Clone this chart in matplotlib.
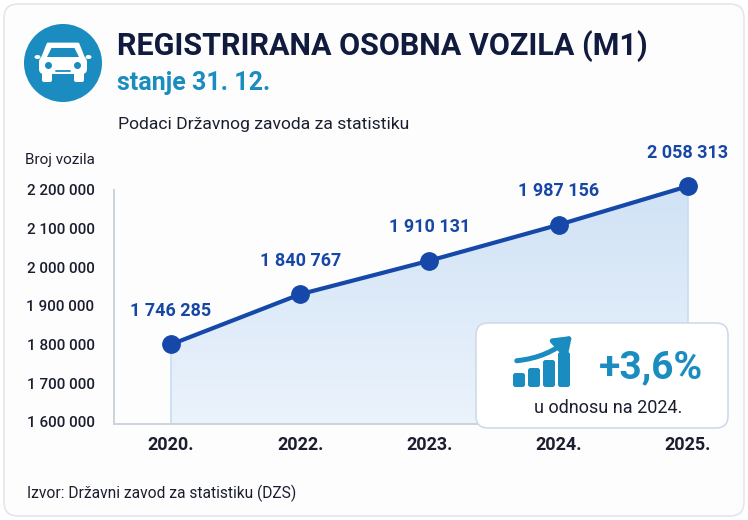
import matplotlib
matplotlib.use("Agg")
import matplotlib.pyplot as plt
import numpy as np
from matplotlib.patches import FancyBboxPatch, Circle, Polygon, Ellipse, FancyArrowPatch
from matplotlib.colors import LinearSegmentedColormap

plt.rcParams['font.family'] = ['Roboto', 'DejaVu Sans']

# ---- data ----
years = ["2020.", "2022.", "2023.", "2024.", "2025."]
registered = [1746285, 1840767, 1910131, 1987156, 2058313]          # labelled values
plotted = [1800000, 1930000, 2017000, 2110000, 2210000]             # heights as drawn on the axis
y_ticks = [1600000, 1700000, 1800000, 1900000, 2000000, 2100000, 2200000]
change_label = "+3,6%"
change_note = "u odnosu na 2024."

TITLE = "REGISTRIRANA OSOBNA VOZILA (M1)"
SUBTITLE = "stanje 31. 12."
INTRO = "Podaci Državnog zavoda za statistiku"
SOURCE = "Izvor: Državni zavod za statistiku (DZS)"

def fmt(v):
    return f"{v:,}".replace(",", " ")

W, H = 748, 520
fig = plt.figure(figsize=(W / 100, H / 100), dpi=100)
fig.patch.set_facecolor("white")

# background card
bg = fig.add_axes([0, 0, 1, 1], zorder=0)
bg.set_xlim(0, W); bg.set_ylim(H, 0); bg.axis("off")
bg.add_patch(FancyBboxPatch((4, 4), W - 8, H - 8, boxstyle="round,pad=0,rounding_size=14",
                            fc="#fdfdfe", ec="#e3e6eb", lw=1.2))

# main axes
L, R, T, B = 114, 690, 190, 424
ax = fig.add_axes([L / W, 1 - B / H, (R - L) / W, (B - T) / H], zorder=1)
ax.set_facecolor("none")
x = np.arange(len(years))
ax.set_xlim(-0.44, 4.015)
ax.set_ylim(1594000, 2200000)

line_col = "#1548a8"
# gradient fill under the line
poly_x = np.concatenate([[x[0]], x, [x[-1]]])
poly_y = np.concatenate([[1594000], plotted, [1594000]])
fill = ax.fill(poly_x, poly_y, color="none", lw=0)[0]
grad = np.linspace(0, 1, 256).reshape(-1, 1)
cmap = LinearSegmentedColormap.from_list("g", ["#ebf3fc", "#d0e2f5"])
im = ax.imshow(grad, extent=[x[0], x[-1], 1594000, 2220000], origin="lower",
               cmap=cmap, aspect="auto", zorder=1)
im.set_clip_path(fill)
ax.plot([x[0], x[0]], [1594000, plotted[0]], color="#c8dcf1", lw=1.2, zorder=2)
ax.plot([x[-1], x[-1]], [1594000, plotted[-1]], color="#c8dcf1", lw=1.2, zorder=2)

ax.plot(x, plotted, "-o", color=line_col, lw=3, ms=12.5, zorder=4, clip_on=False)
for xi, yi, v in zip(x, plotted, registered):
    ax.annotate(fmt(v), (xi, yi), xytext=(0, 24), textcoords="offset points",
                ha="center", va="center", fontsize=13, fontweight="bold",
                color="#1747a6", annotation_clip=False)

for s in ["top", "right"]:
    ax.spines[s].set_visible(False)
for s in ["left", "bottom"]:
    ax.spines[s].set_color("#cdd3dc")
    ax.spines[s].set_linewidth(1.4)
ax.set_yticks(y_ticks)
ax.set_yticklabels([fmt(v) for v in y_ticks], fontsize=11, fontweight="medium", color="#1b1e2e")
ax.set_xticks(x)
ax.set_xticklabels(years, fontsize=13, fontweight="bold", color="#1b1e2e")
ax.tick_params(axis="y", length=0, pad=14)
ax.tick_params(axis="x", length=0, pad=9)

# overlay for texts and decorations
ov = fig.add_axes([0, 0, 1, 1], zorder=2)
ov.set_xlim(0, W); ov.set_ylim(H, 0); ov.axis("off")
ov.set_facecolor("none")

teal = "#1b8cc0"
# icon circle with car
ov.add_patch(Circle((63, 63), 39, fc=teal, ec="none"))
ov.add_patch(Polygon([(48, 44), (78, 44), (84, 59), (42, 59)], closed=True, fc="white", ec="white",
                     lw=2, joinstyle="round"))
ov.add_patch(Polygon([(51.5, 48), (74.5, 48), (79, 57), (47, 57)], closed=True, fc=teal, ec="none"))
ov.add_patch(FancyBboxPatch((39, 57), 48, 17, boxstyle="round,pad=0,rounding_size=5", fc="white", ec="none"))
ov.add_patch(Ellipse((37.5, 57), 6, 4, fc="white", ec="none"))
ov.add_patch(Ellipse((88.5, 57), 6, 4, fc="white", ec="none"))
ov.add_patch(FancyBboxPatch((42, 71), 10, 11, boxstyle="round,pad=0,rounding_size=2", fc="white", ec="none"))
ov.add_patch(FancyBboxPatch((74, 71), 10, 11, boxstyle="round,pad=0,rounding_size=2", fc="white", ec="none"))
ov.add_patch(Circle((48.5, 65.5), 3.5, fc=teal, ec="none"))
ov.add_patch(Circle((77.5, 65.5), 3.5, fc=teal, ec="none"))
ov.plot([56, 70], [71, 71], color=teal, lw=1.3, solid_capstyle="round")

# titles
ov.text(117, 46, TITLE, fontsize=22, fontweight="bold", color="#101b3d", va="center", ha="left")
ov.text(117, 83, SUBTITLE, fontsize=18, fontweight="bold", color=teal, va="center", ha="left")
ov.text(118, 125, INTRO, fontsize=12.6, color="#1b1e2e", va="center", ha="left")
ov.text(25, 160, "Broj vozila", fontsize=11, color="#1b1e2e", va="center", ha="left")
ov.text(27, 493, SOURCE, fontsize=11.2, color="#1b1e2e", va="center", ha="left")

# change box
ov.add_patch(FancyBboxPatch((476, 323), 252, 105, boxstyle="round,pad=0,rounding_size=12",
                            fc="white", ec="#cfdbea", lw=1.2))
bar_x = [513, 528, 543, 558]
bar_tops = [373, 368, 360, 352]
for bx, bt in zip(bar_x, bar_tops):
    ov.add_patch(FancyBboxPatch((bx, bt), 12, 387 - bt, boxstyle="round,pad=0,rounding_size=2.5",
                                fc=teal, ec="none"))
ov.add_patch(FancyArrowPatch((514, 361), (574, 334), connectionstyle="arc3,rad=0.18",
                             arrowstyle="-|>,head_length=7,head_width=5", color=teal, lw=3.6,
                             mutation_scale=1.4))
ov.text(651, 368, change_label, fontsize=28, fontweight="bold", color=teal, va="center", ha="center")
ov.text(608, 408, change_note, fontsize=13, color="#1b1e2e", va="center", ha="center")

fig.savefig("out.png", dpi=100, facecolor=fig.get_facecolor())
